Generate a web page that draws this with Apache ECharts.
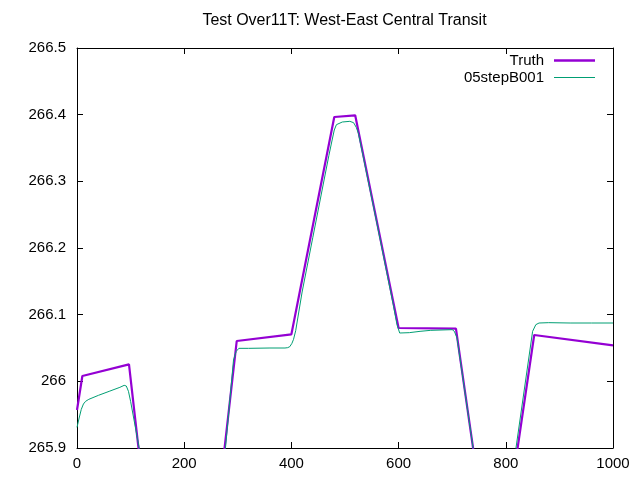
<!DOCTYPE html>
<html>
<head>
<meta charset="utf-8">
<script src="https://cdn.jsdelivr.net/npm/echarts@6/dist/echarts.min.js"></script>
<style>
html,body{margin:0;padding:0;background:#fff;}
#chart{width:640px;height:480px;}
</style>
</head>
<body>
<div id="chart"></div>
<script>
// Data
const titleText = "Test Over11T: West-East Central Transit";
const seriesNames = ["Truth", "05stepB001"];

const truthX = [0, 10, 97, 150, 240, 298, 400, 480, 519, 600, 707, 780, 853, 1000];
const truthY = [265.957, 266.008, 266.0255, 265.65, 265.65, 266.0605, 266.0705, 266.3965, 266.399, 266.080, 266.079, 265.67, 266.0695, 266.054];

const modelX = [0, 4, 8, 12, 16, 22, 40, 60, 80, 88, 92, 96, 100, 116, 150, 240, 277, 292, 297, 302, 320, 360, 388, 393, 397, 401, 404, 408, 420, 440, 470, 476, 480, 484, 495, 509, 516, 521, 525, 560, 590, 597, 602, 620, 640, 660, 700, 704, 709, 739, 780, 819, 850, 856, 862, 880, 920, 960, 1000];
const modelY = [265.931, 265.945, 265.958, 265.966, 265.970, 265.973, 265.979, 265.985, 265.991, 265.994, 265.993, 265.985, 265.970, 265.900, 265.65, 265.65, 265.900, 266.032, 266.045, 266.0495, 266.0495, 266.050, 266.050, 266.0505, 266.052, 266.057, 266.063, 266.076, 266.134, 266.216, 266.339, 266.362, 266.377, 266.385, 266.389, 266.390, 266.388, 266.381, 266.372, 266.235, 266.115, 266.085, 266.0725, 266.073, 266.075, 266.0765, 266.0775, 266.075, 266.065, 265.900, 265.67, 265.900, 266.075, 266.085, 266.0875, 266.088, 266.0875, 266.0875, 266.0875];

const xTicks = { min: 0, max: 1000, interval: 200 };
const yTicks = { min: 265.9, max: 266.5, interval: 0.1 };

const truthData = truthX.map((x, i) => [x, truthY[i]]);
const modelData = modelX.map((x, i) => [x, modelY[i]]);

const FONT = 'Liberation Sans';
const TITLE_SIZE = 16;
const mctx = document.createElement('canvas').getContext('2d');
mctx.font = TITLE_SIZE + 'px "' + FONT + '"';
const titleW = mctx.measureText(titleText).width;

const chart = echarts.init(document.getElementById('chart'), null, { renderer: 'canvas' });
const tickStyle = { show: true, inside: true, length: 6, lineStyle: { color: '#000', width: 1 } };
const axisLineStyle = { show: true, onZero: false, lineStyle: { color: '#000', width: 1 } };
const legendText = { fontFamily: FONT, fontSize: 15, color: '#000', padding: [0, 5, 0, 0] };

const option = {
  animation: false,
  backgroundColor: '#fff',
  title: {
    text: titleText,
    left: 344.5 - titleW / 2,
    top: 13,
    padding: 0,
    textStyle: { fontFamily: FONT, fontSize: TITLE_SIZE, fontWeight: 'normal', color: '#000' }
  },
  legend: [
    {
      data: [seriesNames[0]], right: 45, top: 53, padding: 0,
      orient: 'vertical', align: 'right', icon: 'rect',
      itemWidth: 41, itemHeight: 2.5,
      textStyle: legendText
    },
    {
      data: [seriesNames[1]], right: 45, top: 70, padding: 0,
      orient: 'vertical', align: 'right', icon: 'rect',
      itemWidth: 41, itemHeight: 1.2,
      textStyle: legendText
    }
  ],
  grid: { left: 77, right: 27, top: 48, bottom: 32, containLabel: false },
  xAxis: [
    {
      type: 'value', min: xTicks.min, max: xTicks.max, interval: xTicks.interval,
      position: 'bottom',
      axisLine: axisLineStyle, axisTick: tickStyle,
      axisLabel: { fontFamily: FONT, fontSize: 15, color: '#000', margin: 8, formatter: v => String(v) },
      splitLine: { show: false }
    },
    {
      type: 'value', min: xTicks.min, max: xTicks.max, interval: xTicks.interval,
      position: 'top',
      axisLine: axisLineStyle, axisTick: tickStyle,
      axisLabel: { show: false }, splitLine: { show: false }
    }
  ],
  yAxis: [
    {
      type: 'value', min: yTicks.min, max: yTicks.max, interval: yTicks.interval,
      position: 'left',
      axisLine: axisLineStyle, axisTick: tickStyle,
      axisLabel: {
        fontFamily: FONT, fontSize: 15, color: '#000', margin: 11,
        formatter: v => {
          const r = Math.round(v * 10) / 10;
          return Math.abs(r - Math.round(r)) < 1e-9 ? String(Math.round(r)) : r.toFixed(1);
        }
      },
      splitLine: { show: false }
    },
    {
      type: 'value', min: yTicks.min, max: yTicks.max, interval: yTicks.interval,
      position: 'right',
      axisLine: axisLineStyle, axisTick: tickStyle,
      axisLabel: { show: false }, splitLine: { show: false }
    }
  ],
  series: [
    {
      name: seriesNames[0], type: 'line', data: truthData,
      xAxisIndex: 0, yAxisIndex: 0,
      showSymbol: false, symbol: 'none', clip: true,
      lineStyle: { color: '#9400d3', width: 2.2 },
      itemStyle: { color: '#9400d3' }
    },
    {
      name: seriesNames[1], type: 'line', data: modelData,
      xAxisIndex: 0, yAxisIndex: 0,
      showSymbol: false, symbol: 'none', clip: true,
      lineStyle: { color: '#009e73', width: 1 },
      itemStyle: { color: '#009e73' }
    }
  ]
};
chart.setOption(option);
</script>
</body>
</html>
